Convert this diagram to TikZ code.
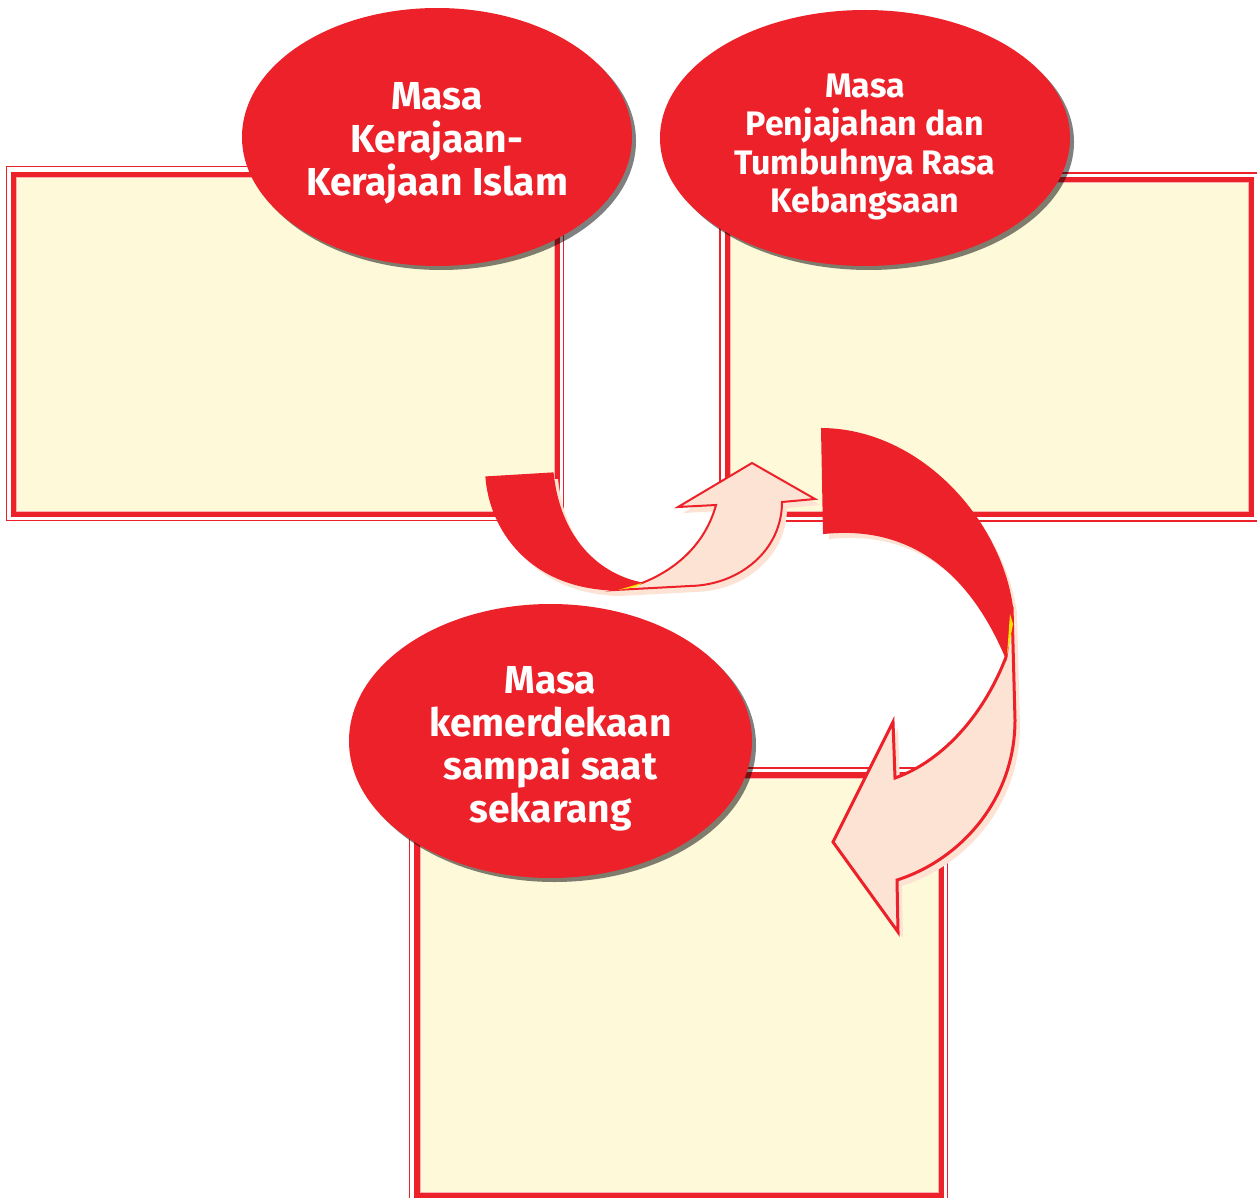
\documentclass[tikz,border=0pt]{standalone}
\usepackage{fontspec}
\setsansfont{Fira Sans}
\renewcommand{\familydefault}{\sfdefault}
\usetikzlibrary{shapes.geometric,shadows}
\definecolor{Rd}{HTML}{ED2129}
\definecolor{Cream}{HTML}{FEF9D9}
\definecolor{Pch}{HTML}{FCE3D3}
\definecolor{Sliver}{HTML}{FFE600}

% ribbon outlines, in pixel units
\newcommand{\ribbonAback}{(486,477) -- (553,473) .. controls (560,540) and (600,575) .. (642,583) -- (615,590) .. controls (530,588) and (490,530) .. (486,477) -- cycle}
\newcommand{\ribbonAfront}{(615,590) -- (690,586) .. controls (740,585) and (782,550) .. (782,502) -- (815,499) -- (752,463) -- (678,507) -- (716,505) .. controls (705,545) and (675,570) .. (642,583) -- cycle}
\newcommand{\ribbonBback}{(822,429) .. controls (920,430) and (1000,520) .. (1012,607) -- (1006,657) .. controls (965,560) and (900,525) .. (824,533) -- cycle}
\newcommand{\ribbonBfront}{(1006,657) -- (1012,607) -- (1015,720) .. controls (1015,800) and (960,860) .. (897,880) -- (898,932) -- (833,842) -- (893,722) -- (895,778) .. controls (945,760) and (985,712) .. (1006,657) -- cycle}

\tikzset{
  thinframe/.style={draw=Rd,line width=0.8pt},
  thickframe/.style={draw=Rd,line width=2.6pt},
  paper/.style={fill=Cream,draw=Rd!35,line width=0.4pt},
  bubble/.style={ellipse,fill=Rd,inner sep=0pt,
    drop shadow={shadow xshift=2pt,shadow yshift=-2pt,fill=black,opacity=0.5}},
  bubbletext/.style={text=white,inner sep=0pt,align=center,
    font=\bfseries\fontsize{19.5}{21.5}\selectfont},
  ribbonshadow/.style={fill=Pch,shift={(5,6)}},
}

\begin{document}
\begin{tikzpicture}[x=0.5pt,y=-0.5pt]
\path[use as bounding box,fill=white] (0,0) rectangle (1257,1198);

% panels
\draw[thinframe] (6.5,166.5) rectangle (563.5,520.5);
\draw[thickframe] (13.5,174.5) rectangle (557.5,514.5);
\draw[paper] (16.5,177.5) rectangle (554.5,511.5);

\draw[thinframe] (720,173) rectangle (1262,521);
\draw[thickframe] (727.5,179.5) rectangle (1251.5,514.5);
\draw[paper] (730.5,182.5) rectangle (1248.5,511.5);

\draw[thinframe] (409.5,768) rectangle (947.5,1204);
\draw[thickframe] (417,775) rectangle (941,1195.5);
\draw[paper] (420,778) rectangle (938,1192.5);

% bent arrows
\fill[ribbonshadow] \ribbonAback;
\fill[ribbonshadow] \ribbonAfront;
\filldraw[fill=Pch,draw=Rd,line width=1pt,line join=miter] \ribbonAfront;
\filldraw[fill=Rd,draw=Rd,line width=0.6pt] \ribbonAback;
\fill[Sliver] (618,590) -- (642,583) -- (636,587) -- cycle;

\fill[ribbonshadow] \ribbonBback;
\fill[ribbonshadow] \ribbonBfront;
\filldraw[fill=Pch,draw=Rd,line width=1.5pt,line join=miter] \ribbonBfront;
\filldraw[fill=Rd,draw=Rd,line width=1pt] \ribbonBback;
\fill[Sliver] (1010,614) -- (1013,624) -- (1007,655) -- cycle;

% period bubbles
\node[bubble,minimum width=195pt,minimum height=129pt] (kerajaan) at (437,137) {};
\node[bubbletext] (kerajaan-text) at ([yshift=-3pt]kerajaan.center) {Masa\\Kerajaan-\\Kerajaan Islam};
\node[bubble,minimum width=205pt,minimum height=128pt] (penjajahan) at (865,138) {};
\node[bubbletext,font=\bfseries\fontsize{17}{19.25}\selectfont] (penjajahan-text) at ([yshift=-4.5pt]penjajahan.center) {Masa\\Penjajahan dan\\Tumbuhnya Rasa\\Kebangsaan};
\node[bubble,minimum width=201.5pt,minimum height=137pt] (merdeka) at (550.5,741) {};
\node[bubbletext] (merdeka-text) at ([yshift=-4pt]merdeka.center) {Masa\\kemerdekaan\\sampai saat\\sekarang};
\end{tikzpicture}
\end{document}
